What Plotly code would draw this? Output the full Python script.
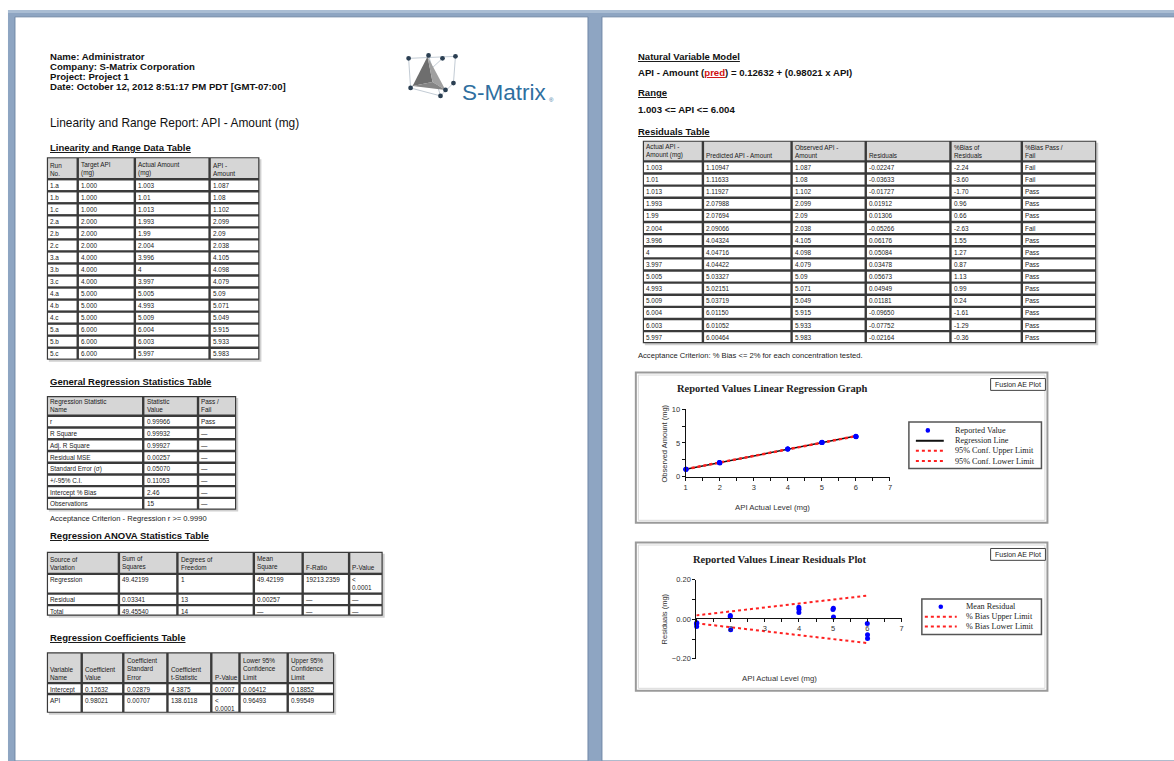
import plotly.graph_objects as go

W, H = 1174, 761
ARIAL = "Arial, 'Liberation Sans', sans-serif"
TIMES = "'Times New Roman', 'Liberation Serif', serif"

# ---------------- data ----------------
run_no = ["1.a", "1.b", "1.c", "2.a", "2.b", "2.c", "3.a", "3.b", "3.c",
          "4.a", "4.b", "4.c", "5.a", "5.b", "5.c"]
target_api = [1.0, 1.0, 1.0, 2.0, 2.0, 2.0, 4.0, 4.0, 4.0, 5.0, 5.0, 5.0, 6.0, 6.0, 6.0]
actual_amount = [1.003, 1.01, 1.013, 1.993, 1.99, 2.004, 3.996, 4.0, 3.997,
                 5.005, 4.993, 5.009, 6.004, 6.003, 5.997]
observed_amount = [1.087, 1.080, 1.102, 2.099, 2.090, 2.038, 4.105, 4.098, 4.079,
                   5.090, 5.071, 5.049, 5.915, 5.933, 5.983]
predicted_amount = [1.10947, 1.11633, 1.11927, 2.07988, 2.07694, 2.09066, 4.04324, 4.04716,
                    4.04422, 5.03327, 5.02151, 5.03719, 6.01150, 6.01052, 6.00464]
residuals = [-0.02247, -0.03633, -0.01727, 0.01912, 0.01306, -0.05266, 0.06176, 0.05084,
             0.03478, 0.05673, 0.04949, 0.01181, -0.09650, -0.07752, -0.02164]
pct_bias = [-2.24, -3.60, -1.70, 0.96, 0.66, -2.63, 1.55, 1.27, 0.87, 1.13, 0.99, 0.24,
            -1.61, -1.29, -0.36]
bias_result = ["Fail", "Fail", "Pass", "Pass", "Pass", "Fail", "Pass", "Pass", "Pass",
               "Pass", "Pass", "Pass", "Pass", "Pass", "Pass"]

reg_stat_names = ["r", "R Square", "Adj. R Square", "Residual MSE", "Standard Error (σ)",
                  "+/-95% C.I.", "Intercept % Bias", "Observations"]
reg_stat_values = ["0.99966", "0.99932", "0.99927", "0.00257", "0.05070", "0.11053", "2.46", "15"]
reg_stat_result = ["Pass", "—", "—", "—", "—", "—", "—", "—"]

anova_source = ["Regression", "Residual", "Total"]
anova_ss = ["49.42199", "0.03341", "49.45540"]
anova_df = ["1", "13", "14"]
anova_ms = ["49.42199", "0.00257", "—"]
anova_f = ["19213.2359", "—", "—"]
anova_p = ["&lt;<br>0.0001", "—", "—"]

coef_names = ["Intercept", "API"]
coef_value = ["0.12632", "0.98021"]
coef_se = ["0.02879", "0.00707"]
coef_t = ["4.3875", "138.6118"]
coef_p = ["0.0007", "&lt;<br>0.0001"]
coef_lcl = ["0.06412", "0.96493"]
coef_ucl = ["0.18852", "0.99549"]

reg_line_x = [1.003, 6.004]
reg_line_y = [1.10947, 6.01150]
conf_upper_y = [1.142, 6.043]
conf_lower_y = [1.077, 5.980]

bias_limit_x = [1, 6]
bias_upper = [0.02, 0.12]
bias_lower = [-0.02, -0.12]

x_tick_vals = [1, 2, 3, 4, 5, 6, 7]
x_tick_text = ["1", "2", "3", "4", "5", "6", "7"]
x_tick_text_resid = ["", "2", "3", "4", "5", "6", "7"]
x_minor_vals = [1.5, 2.5, 3.5, 4.5, 5.5, 6.5]
y_tick_vals = [0, 5, 10]
y_minor_vals = [2.5, 7.5]
resid_tick_vals = [-0.2, 0.0, 0.2]
resid_minor_vals = [-0.1, 0.1]

# ---------------- helpers ----------------
shapes = []
annotations = []


def X(px):
    return px / W


def Y(py):
    return 1 - py / H


def rect(x0, y0, x1, y1, fill=None, line=None, lw=0, layer="below"):
    shapes.append(dict(type="rect", xref="paper", yref="paper",
                       x0=X(x0), y0=Y(y0), x1=X(x1), y1=Y(y1),
                       fillcolor=fill or "rgba(0,0,0,0)",
                       line=dict(color=line or "rgba(0,0,0,0)", width=lw), layer=layer))


def seg(x0, y0, x1, y1, color, lw=1, dash=None, layer="below"):
    d = dict(color=color, width=lw)
    if dash:
        d["dash"] = dash
    shapes.append(dict(type="line", xref="paper", yref="paper",
                       x0=X(x0), y0=Y(y0), x1=X(x1), y1=Y(y1), line=d, layer=layer))


def dot(cx, cy, r, color, layer="above"):
    shapes.append(dict(type="circle", xref="paper", yref="paper",
                       x0=X(cx - r), y0=Y(cy + r), x1=X(cx + r), y1=Y(cy - r),
                       fillcolor=color, line=dict(width=0), layer=layer))


def poly(pts, fill, line=None, lw=0):
    p = "M " + " L ".join(f"{X(a):.5f},{Y(b):.5f}" for a, b in pts) + " Z"
    shapes.append(dict(type="path", xref="paper", yref="paper", path=p, fillcolor=fill,
                       line=dict(color=line or "rgba(0,0,0,0)", width=lw), layer="below"))


def text(px, py, s, size=8, color="#111", family=ARIAL, xanchor="left", yanchor="middle",
         bold=False, align="left", angle=0):
    if bold:
        s = f"<b>{s}</b>"
    annotations.append(dict(x=X(px), y=Y(py), xref="paper", yref="paper", text=s,
                            showarrow=False, xanchor=xanchor, yanchor=yanchor, align=align,
                            font=dict(size=size, color=color, family=family),
                            borderpad=0, textangle=angle))


def heading(px, py, s):
    text(px, py, f"<span style='text-decoration:underline'>{s}</span>", size=9.5, bold=True)


def table(col_edges, row_edges, header, rows, fs=6.4):
    x0, x1 = col_edges[0], col_edges[-1]
    y0, y1 = row_edges[0], row_edges[-1]
    rect(x0 + 2, y0 + 2, x1 + 2, y1 + 2, fill="#d0d0d0")
    rect(x0, y0, x1, y1, fill="#3a3a3a")
    for r in range(len(row_edges) - 1):
        for c in range(len(col_edges) - 1):
            ca, cb = col_edges[c], col_edges[c + 1]
            ra, rb = row_edges[r], row_edges[r + 1]
            rect(ca + 1.2, ra + 1.2, cb - 1.2, rb - 1.2,
                 fill="#d6d6d6" if r == 0 else "white")
            if r == 0:
                text(ca + 2.3, rb - 1.6, header[c], size=fs, color="#1a1a1a", yanchor="bottom")
            else:
                text(ca + 2.3, ra + 1.6, rows[r - 1][c], size=fs, color="#1a1a1a", yanchor="top")


def even_rows(top, header_bottom, bottom, n):
    step = (bottom - header_bottom) / n
    return [top, header_bottom] + [header_bottom + step * (i + 1) for i in range(n)]


# ---------------- background & pages ----------------
rect(0, 0, W, H, fill="white")
rect(6, 6, W + 5, H + 5, fill="#8ea5c2")
rect(6, 6, W + 5, 9, fill="#aabdd3")
rect(13, 13, 588, H + 5, fill="white", line="#6f87a6", lw=1)
rect(602, 13, W + 5, H + 5, fill="white", line="#6f87a6", lw=1)

# ---------------- left page ----------------
text(47, 53, "Name: Administrator", size=9.6, bold=True)
text(47, 63.5, "Company: S-Matrix Corporation", size=9.6, bold=True)
text(47, 73, "Project: Project 1", size=9.6, bold=True)
text(47, 83, "Date: October 12, 2012 8:51:17 PM PDT [GMT-07:00]", size=9.6, bold=True)

# logo
for a, b in [((408, 55), (455, 53)), ((408, 55), (410, 85)), ((410, 85), (440, 93)),
             ((455, 53), (453, 80)), ((453, 80), (440, 93)), ((428, 52), (440, 93)),
             ((442, 55), (410, 85))]:
    seg(a[0], a[1], b[0], b[1], "#c3ccd5", 1)
poly([(427, 53), (412, 83), (432, 79)], "#6e6e6e")
poly([(427, 53), (432, 79), (445, 87)], "#a0a0a0")
poly([(412, 83), (432, 79), (445, 87)], "#858585")
for cx, cy in [(408, 55), (428, 52), (442, 55), (455, 53), (410, 85), (440, 93), (453, 80), (445, 87)]:
    dot(cx, cy, 2.4, "#2b3f52")
text(461, 90, "S-Matrix", size=22.5, color="#2f6fa0")
text(548, 97, "®", size=6, color="#2f6fa0")

text(47, 120, "Linearity and Range Report: API - Amount (mg)", size=11.9, color="#111")

heading(47, 145.5, "Linearity and Range Data Table")
t1_rows = [[run_no[i], f"{target_api[i]:.3f}", f"{actual_amount[i]:g}", f"{observed_amount[i]:g}"]
           for i in range(len(run_no))]
table([45, 76, 133.3, 208.3, 258.3], even_rows(155, 177.3, 360, 15),
      ["Run<br>No.", "Target API<br>(mg)", "Actual Amount<br>(mg)", "API -<br>Amount"], t1_rows)

heading(47, 381.7, "General Regression Statistics Table")
t2_rows = [[reg_stat_names[i], reg_stat_values[i], reg_stat_result[i]] for i in range(len(reg_stat_names))]
table([45, 141.7, 196.7, 235], even_rows(396.7, 416.7, 511.7, 8),
      ["Regression Statistic<br>Name", "Statistic<br>Value", "Pass /<br>Fail"], t2_rows)
text(47, 520.7, "Acceptance Criterion - Regression r &gt;= 0.9990", size=7.6, color="#222")

heading(47, 538.3, "Regression ANOVA Statistics Table")
t3_rows = [[anova_source[i], anova_ss[i], anova_df[i], anova_ms[i], anova_f[i], anova_p[i]]
           for i in range(len(anova_source))]
table([45, 117.3, 176, 252.7, 301.7, 348.3, 382], [554.3, 576.7, 596.7, 608.3, 619],
      ["Source of<br>Variation", "Sum of<br>Squares", "Degrees of<br>Freedom", "Mean<br>Square",
       "F-Ratio", "P-Value"], t3_rows)

heading(47, 640.7, "Regression Coefficients Table")
t4_rows = [[coef_names[i], coef_value[i], coef_se[i], coef_t[i], coef_p[i], coef_lcl[i], coef_ucl[i]]
           for i in range(len(coef_names))]
table([45, 80, 121.7, 166, 210, 238.3, 286.7, 333.3], [656, 687.3, 698.3, 717.3],
      ["Variable<br>Name", "Coefficient<br>Value", "Coefficient<br>Standard<br>Error",
       "Coefficient<br>t-Statistic", "P-Value", "Lower 95%<br>Confidence<br>Limit",
       "Upper 95%<br>Confidence<br>Limit"], t4_rows)

# ---------------- right page ----------------
heading(637, 53.3, "Natural Variable Model")
text(637, 69.5, "API - Amount (<span style='color:#d01010;text-decoration:underline'>pred</span>)"
     " = 0.12632 + (0.98021 x API)", size=9.6, bold=True)
heading(637, 90, "Range")
text(637, 106.7, "1.003 &lt;= API &lt;= 6.004", size=9.6, bold=True)
heading(637, 129.3, "Residuals Table")
t5_rows = [[f"{actual_amount[i]:g}", f"{predicted_amount[i]:.5f}", f"{observed_amount[i]:g}",
            f"{residuals[i]:.5f}", f"{pct_bias[i]:.2f}", bias_result[i]] for i in range(len(run_no))]
table([643, 703.3, 792.3, 866.7, 951.7, 1023.3, 1098], even_rows(138.3, 159.3, 343.3, 15),
      ["Actual API -<br>Amount (mg)", "Predicted API - Amount", "Observed API -<br>Amount",
       "Residuals", "%Bias of<br>Residuals", "%Bias Pass /<br>Fail"], t5_rows)
text(637, 356, "Acceptance Criterion: % Bias &lt;= 2% for each concentration tested.", size=7.6, color="#222")

# chart frames, buttons, titles, legends
for (fy0, fy1) in [(373, 525), (545, 695)]:
    rect(636, fy0, 1049, fy1, fill="white", line="#9a9a9a", lw=2)
    rect(638.5, fy0 + 2.5, 1046.5, fy1 - 2.5, line="#dadada", lw=1)
    rect(992, fy0 + 6, 1047, fy0 + 18, fill="white", line="#444", lw=1)
    text(1019.5, fy0 + 12, "Fusion AE Plot", size=7, color="#222", xanchor="center")

text(773, 389, "Reported Values Linear Regression Graph", size=10.5, bold=True, family=TIMES,
     xanchor="center", color="#222")
text(781, 562, "Reported Values Linear Residuals Plot", size=10.5, bold=True, family=TIMES,
     xanchor="center", color="#222")
text(665, 445, "Observed Amount (mg)", size=7.5, color="#333", xanchor="center", angle=-90)
text(773, 510, "API Actual Level (mg)", size=7.8, color="#333", xanchor="center")
text(665, 622, "Residuals (mg)", size=7.5, color="#333", xanchor="center", angle=-90)
text(780, 683, "API Actual Level (mg)", size=7.8, color="#333", xanchor="center")

# legend 1
rect(910, 423, 1043, 470, fill="white", line="#555", lw=1.5)
dot(929, 431.5, 2.3, "#0000ff")
seg(917, 442, 945, 442, "#111", 2)
seg(917, 452, 945, 452, "#ff2020", 2, "dot")
seg(917, 462.5, 945, 462.5, "#ff2020", 2, "dot")
for yy, s in [(431.5, "Reported Value"), (442, "Regression Line"),
              (452, "95% Conf. Upper Limit"), (462.5, "95% Conf. Lower Limit")]:
    text(955, yy, s, size=8.2, family=TIMES, color="#222")

# legend 2
rect(923, 602, 1043, 638, fill="white", line="#555", lw=1.5)
dot(942, 610, 2.3, "#0000ff")
seg(926, 620, 958, 620, "#ff2020", 2, "dot")
seg(926, 630, 958, 630, "#ff2020", 2, "dot")
for yy, s in [(610, "Mean Residual"), (620, "% Bias Upper Limit"), (630, "% Bias Lower Limit")]:
    text(966, yy, s, size=8.2, family=TIMES, color="#222")

# ---------------- figure ----------------
fig = go.Figure()
fig.add_trace(go.Scatter(x=reg_line_x, y=reg_line_y, mode="lines", line=dict(color="#111", width=1.5),
                         xaxis="x", yaxis="y", cliponaxis=False))
fig.add_trace(go.Scatter(x=reg_line_x, y=conf_upper_y, mode="lines",
                         line=dict(color="#ff2020", width=2, dash="dot"), xaxis="x", yaxis="y"))
fig.add_trace(go.Scatter(x=reg_line_x, y=conf_lower_y, mode="lines",
                         line=dict(color="#ff2020", width=2, dash="dot"), xaxis="x", yaxis="y"))
fig.add_trace(go.Scatter(x=actual_amount, y=observed_amount, mode="markers",
                         marker=dict(color="#0000ff", size=5), xaxis="x", yaxis="y", cliponaxis=False))

fig.add_trace(go.Scatter(x=bias_limit_x, y=bias_upper, mode="lines",
                         line=dict(color="#ff2020", width=2, dash="dot"), xaxis="x2", yaxis="y2"))
fig.add_trace(go.Scatter(x=bias_limit_x, y=bias_lower, mode="lines",
                         line=dict(color="#ff2020", width=2, dash="dot"), xaxis="x2", yaxis="y2"))
fig.add_trace(go.Scatter(x=actual_amount, y=residuals, mode="markers",
                         marker=dict(color="#0000ff", size=5), xaxis="x2", yaxis="y2", cliponaxis=False))

axis_common = dict(showgrid=False, zeroline=False, showline=True, linecolor="#111", linewidth=1,
                   ticks="outside", ticklen=3, tickcolor="#111", tickwidth=1,
                   tickfont=dict(size=7.5, family=ARIAL, color="#333"), fixedrange=True)

fig.update_layout(
    width=W, height=H, margin=dict(l=0, r=0, t=0, b=0), showlegend=False,
    paper_bgcolor="white", plot_bgcolor="rgba(0,0,0,0)",
    shapes=shapes, annotations=annotations,
    xaxis=dict(domain=[X(686), X(891)], range=[1, 7], anchor="y", tickmode="array",
               tickvals=x_tick_vals, ticktext=x_tick_text,
               minor=dict(tickmode="array", tickvals=x_minor_vals, ticks="outside", ticklen=3,
                          tickcolor="#111", showgrid=False), **axis_common),
    yaxis=dict(domain=[Y(478.3), Y(410)], range=[0, 10], anchor="x", tickmode="array",
               tickvals=y_tick_vals,
               minor=dict(tickmode="array", tickvals=y_minor_vals, ticks="outside", ticklen=3,
                          tickcolor="#111", showgrid=False), **axis_common),
    xaxis2=dict(domain=[X(696.7), X(902.7)], range=[1, 7], anchor="free", position=Y(621.7),
                tickmode="array", tickvals=x_tick_vals, ticktext=x_tick_text_resid,
                minor=dict(tickmode="array", tickvals=x_minor_vals, ticks="outside", ticklen=3,
                           tickcolor="#111", showgrid=False), **axis_common),
    yaxis2=dict(domain=[Y(662.7), Y(582.7)], range=[-0.2, 0.2], anchor="x2", tickmode="array",
                tickvals=resid_tick_vals, tickformat=".2f",
                minor=dict(tickmode="array", tickvals=resid_minor_vals, ticks="outside", ticklen=3,
                           tickcolor="#111", showgrid=False), **axis_common),
)

fig.write_html("out.html", config={"displayModeBar": False},
               post_script="document.body.style.margin='0px';document.body.style.overflow='hidden';")
